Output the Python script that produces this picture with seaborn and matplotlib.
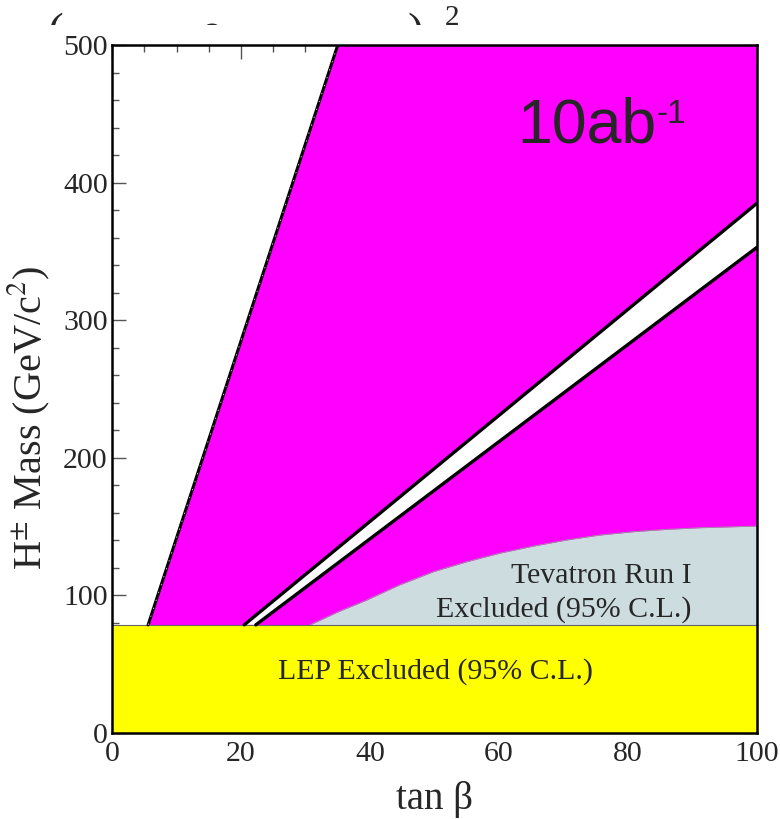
import numpy as np
import matplotlib
matplotlib.use("Agg")
import matplotlib.pyplot as plt
from matplotlib.transforms import Bbox, TransformedBbox
import seaborn as sns

# ---- data ----
lep_limit = 78.6
x_limits = [0, 100]
y_limits = [0, 500]
x_major = [0, 20, 40, 60, 80, 100]
y_major = [0, 100, 200, 300, 400, 500]

excl_left_tanb = [5.6, 35.0]
excl_left_mass = [78.6, 500.0]
gap_upper_tanb = [20.5, 100.0]
gap_upper_mass = [78.6, 385.0]
gap_lower_tanb = [22.3, 100.0]
gap_lower_mass = [78.6, 353.0]
tev_tanb = [30.7, 35.0, 39.5, 44.5, 49.8, 55.0, 60.2, 65.5, 70.5, 75.5, 80.8, 86.0, 91.2, 100.0]
tev_mass = [78.6, 88.0, 96.7, 107.5, 117.2, 124.5, 130.8, 136.0, 140.3, 143.8, 146.3, 148.0, 149.2, 150.4]

MAGENTA = "#FF00FF"
YELLOW = "#FFFF00"
GREY = "#CCDCDF"

sns.set_style("ticks")
plt.rcParams["font.family"] = ["Liberation Serif", "DejaVu Serif"]
plt.rcParams["mathtext.fontset"] = "stix"

W, H = 780, 819
fig = plt.figure(figsize=(W / 100, H / 100), dpi=100)
ax = fig.add_axes([112 / W, 1 - 733 / H, 645 / W, 688 / H])

# magenta excluded region right of the left boundary
ax.fill_betweenx(excl_left_mass, excl_left_tanb, x_limits[1], color=MAGENTA, lw=0, zorder=1)
# Tevatron region
ax.fill_between(tev_tanb, lep_limit, tev_mass, color=GREY, lw=0, zorder=2)
sns.lineplot(x=tev_tanb, y=tev_mass, ax=ax, color="#9a9a9a", lw=0.6, zorder=2.5)
# white gap band
ax.fill(gap_upper_tanb + gap_lower_tanb[::-1], gap_upper_mass + gap_lower_mass[::-1],
        color="white", lw=0, zorder=3)
# LEP
ax.fill_between(x_limits, y_limits[0], lep_limit, color=YELLOW, lw=0, zorder=4)
ax.axhline(lep_limit, color="#666666", lw=0.8, zorder=4.5)

# boundary lines
sns.lineplot(x=excl_left_tanb, y=excl_left_mass, ax=ax, color="black", lw=2.2, zorder=5)
sns.lineplot(x=excl_left_tanb, y=excl_left_mass, ax=ax, color="white", lw=0.5,
             dashes=(2, 10), zorder=5.1)
sns.lineplot(x=gap_upper_tanb, y=gap_upper_mass, ax=ax, color="black", lw=2.4, zorder=5)
sns.lineplot(x=gap_lower_tanb, y=gap_lower_mass, ax=ax, color="black", lw=2.4, zorder=5)

ax.set_xlim(x_limits)
ax.set_ylim(y_limits)
ax.set_xticks(x_major)
ax.set_yticks(y_major)
ax.xaxis.set_minor_locator(matplotlib.ticker.MultipleLocator(5))
ax.yaxis.set_minor_locator(matplotlib.ticker.MultipleLocator(20))
ax.tick_params(which="both", direction="in", top=True, right=True, color="#555555",
               labelsize=21.5, width=1.0, zorder=10)
ax.tick_params(which="major", length=10)
ax.tick_params(which="minor", length=5)
ax.tick_params(axis="x", which="major", pad=6)
ax.tick_params(axis="y", which="major", pad=3)
for s in ax.spines.values():
    s.set_linewidth(1.8)
    s.set_color("black")
    s.set_zorder(10)

ax.set_xlabel("tan β", fontsize=28, labelpad=10)
ax.set_ylabel("H$^{\\pm}$ Mass (GeV/c$^{2}$)", fontsize=29)
ax.yaxis.set_label_coords(-0.093, 0.458)

ax.text(50.1, 39.2, "LEP Excluded (95% C.L.)", ha="center", va="baseline",
        fontsize=21.5, zorder=6)
ax.text(89.8, 109.0, "Tevatron Run I", ha="right", va="baseline", fontsize=21.5, zorder=6)
ax.text(89.8, 84.3, "Excluded (95% C.L.)", ha="right", va="baseline", fontsize=21.5, zorder=6)

sans = ["Liberation Sans", "DejaVu Sans"]
t1 = ax.text(0.628, 0.8576, "10ab", transform=ax.transAxes, ha="left", va="baseline",
             fontsize=45, family=sans, zorder=6)
ax.annotate("-1", xy=(1.0, 0.97), xycoords=t1, ha="left", va="top", fontsize=24,
            family=sans, zorder=6)

# header remnants at the very top: only their upper parts are visible
clip = TransformedBbox(Bbox([[0, 1 - 25 / H], [1, 1]]), fig.transFigure)
for txt, xpx, ypx, fs in [("(", 48, 45, 34), ("e", 200, 45, 34),
                          (")", 407, 45, 34), ("2", 445, 25, 21)]:
    t = fig.text(xpx / W, 1 - ypx / H, txt, fontsize=fs, ha="left", va="baseline")
    t.set_clip_box(clip)
    t.set_clip_on(True)

fig.savefig("out.png", dpi=100)
